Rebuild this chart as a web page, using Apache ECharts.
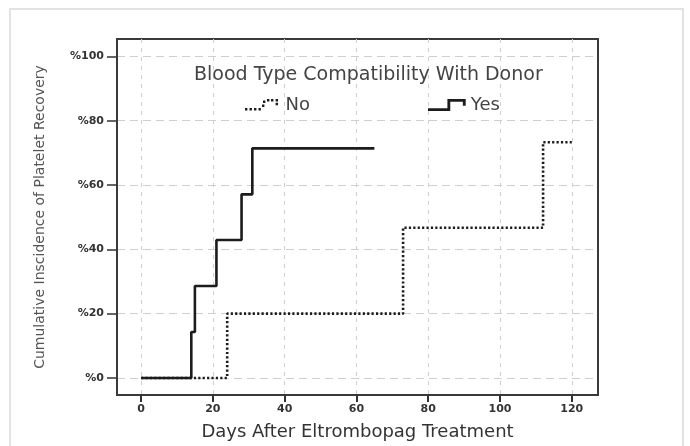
<!DOCTYPE html>
<html>
<head>
<meta charset="utf-8">
<script src="https://cdn.jsdelivr.net/npm/echarts@6/dist/echarts.min.js"></script>
<style>
  html, body { margin: 0; padding: 0; background: #fff; }
  #chart { width: 690px; height: 446px; }
</style>
</head>
<body>
<div id="chart"></div>
<script>
// Kaplan–Meier style cumulative incidence of platelet recovery, by donor blood type compatibility
const xTicks = [0, 20, 40, 60, 80, 100, 120];
const yTicks = [0, 20, 40, 60, 80, 100];

// [day, cumulative incidence %] at each event
const yesDays = [0, 14, 15, 21, 28, 31, 65];
const yesPct  = [0, 14.3, 28.6, 42.9, 57.1, 71.4, 71.4];
const noDays  = [0, 24, 73, 112, 120];
const noPct   = [0, 20, 46.7, 73.3, 73.3];

const pairs = (xs, ys) => xs.map((x, i) => [x, ys[i]]);

const FONT = '"DejaVu Sans", "Liberation Sans", Arial, sans-serif';
const INK = '#1c1c1c';

// step icons for the legend
const yesIcon = 'path://M0 9 L17 9 L17 1 L33 1 L33 7 L30.5 7 L30.5 3.5 L19.5 3.5 L19.5 11.5 L0 11.5 Z';
const dot = (x, y) => `M${x} ${y} h2.4 v2.4 h-2.4 Z `;
const noIcon = 'path://' +
  dot(0, 9) + dot(4.5, 9) + dot(9, 9) + dot(13.5, 9) +
  dot(17, 5.5) + dot(18, 1.5) + dot(22, 0) + dot(26, 0) + dot(30.6, 0) + dot(30.6, 3.8) +
  'M0 0 h0.01 v12 h-0.01 Z M33 0 h0.01 v12 h-0.01 Z';

const chart = echarts.init(document.getElementById('chart'), null, { renderer: 'canvas' });

chart.setOption({
  animation: false,
  backgroundColor: '#ffffff',
  graphic: [{
    type: 'rect',
    shape: { x: 10, y: 9, width: 673, height: 460 },
    style: { fill: 'none', stroke: '#e2e2e2', lineWidth: 2 },
    silent: true,
    z: -10
  }],
  title: {
    text: 'Blood Type Compatibility With Donor',
    left: 189,
    top: 61,
    textStyle: { fontFamily: FONT, fontSize: 19, fontWeight: 'normal', color: '#444' }
  },
  legend: {
    data: [
      { name: 'No', icon: noIcon },
      { name: 'Yes', icon: yesIcon }
    ],
    left: 240,
    top: 91,
    itemWidth: 38,
    itemHeight: 12,
    itemGap: 118,
    textStyle: { fontFamily: FONT, fontSize: 18, color: '#444' },
    itemStyle: { color: INK }
  },
  grid: {
    left: 117, top: 39, right: 92, bottom: 48,
    show: true,
    borderColor: '#3a3a3a',
    borderWidth: 2,
    containLabel: false
  },
  xAxis: {
    type: 'value',
    min: -6.7,
    max: 127.3,
    name: 'Days After Eltrombopag Treatment',
    nameLocation: 'middle',
    nameGap: 28,
    nameTextStyle: { fontFamily: FONT, fontSize: 18, color: '#333' },
    axisLine: { show: true, onZero: false, lineStyle: { color: '#3a3a3a', width: 2 } },
    axisTick: { show: true, customValues: xTicks, length: 7, lineStyle: { color: '#333', width: 2 } },
    axisLabel: {
      customValues: xTicks,
      margin: 9,
      fontFamily: FONT, fontSize: 11, fontWeight: 'bold', color: '#333'
    },
    splitLine: { show: true, lineStyle: { color: '#cfcfcf', width: 1, type: [4, 5] } }
  },
  yAxis: {
    type: 'value',
    min: -5.3,
    max: 105.4,
    name: 'Cumulative Inscidence of Platelet Recovery',
    nameLocation: 'middle',
    nameGap: 70,
    nameTextStyle: { fontFamily: FONT, fontSize: 14, color: '#555' },
    axisLine: { show: true, onZero: false, lineStyle: { color: '#3a3a3a', width: 2 } },
    axisTick: { show: true, customValues: yTicks, length: 10, lineStyle: { color: '#333', width: 1.5 } },
    axisLabel: {
      customValues: yTicks,
      margin: 13,
      formatter: v => '%' + v,
      fontFamily: FONT, fontSize: 11, fontWeight: 'bold', color: '#333'
    },
    splitLine: { show: true, lineStyle: { color: '#cfcfcf', width: 1, type: [8, 5] } }
  },
  series: [
    {
      name: 'No',
      type: 'line',
      step: 'end',
      data: pairs(noDays, noPct),
      symbol: 'none',
      lineStyle: { color: INK, width: 2.6, type: [2.2, 2.2] },
      itemStyle: { color: INK },
      z: 2
    },
    {
      name: 'Yes',
      type: 'line',
      step: 'end',
      data: pairs(yesDays, yesPct),
      symbol: 'none',
      lineStyle: { color: INK, width: 2.6 },
      itemStyle: { color: INK },
      z: 3
    }
  ]
});
</script>
</body>
</html>
